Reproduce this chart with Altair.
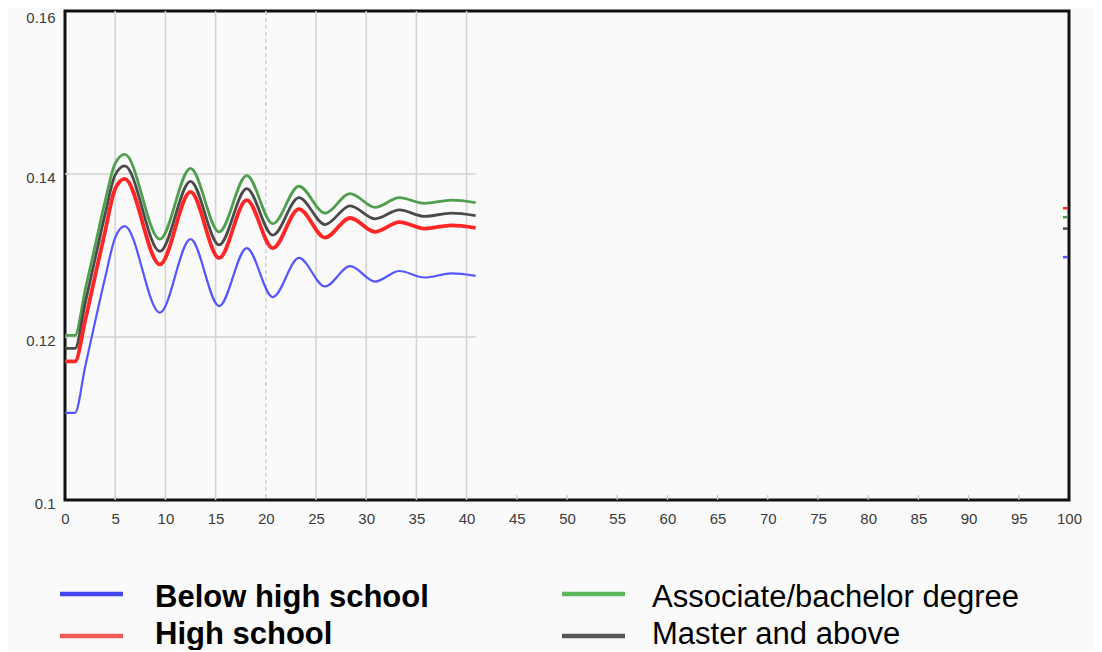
import altair as alt
import pandas as pd

series = ["Below high school", "High school", "Associate/bachelor degree", "Master and above"]
line_colors = ["#5656ff", "#ff2626", "#4f9f4f", "#4a4a4a"]
legend_colors = ["#4646f5", "#f25a5a", "#5cb85c", "#565656"]
line_widths = [2.2, 3.8, 2.8, 2.8]
draw_order = [2, 3, 1, 0]

time = [0, 1, 2, 3, 4, 5, 5.95, 9.45, 12.5, 15.35, 18.1, 20.7, 23.3, 25.9, 28.4, 30.9, 33.3, 35.8, 38.5, 40.9]
below = [0.1107, 0.1107, 0.1163, 0.1219, 0.1273, 0.1322, 0.1336, 0.1230, 0.1320, 0.1238, 0.1309, 0.1249,
         0.1297, 0.1262, 0.1287, 0.1268, 0.1281, 0.1273, 0.1278, 0.1275]
high = [0.1170, 0.1170, 0.1220, 0.1275, 0.1330, 0.1382, 0.1394, 0.1289, 0.1378, 0.1297, 0.1368, 0.1309,
        0.1357, 0.1322, 0.1346, 0.1329, 0.1341, 0.1333, 0.1337, 0.1334]
assoc = [0.1202, 0.1202, 0.1257, 0.1312, 0.1367, 0.1413, 0.1424, 0.1320, 0.1407, 0.1329, 0.1398, 0.1339,
         0.1385, 0.1352, 0.1376, 0.1359, 0.1371, 0.1364, 0.1368, 0.1365]
master = [0.1186, 0.1186, 0.1241, 0.1296, 0.1351, 0.1399, 0.1410, 0.1305, 0.1391, 0.1313, 0.1382, 0.1325,
          0.1371, 0.1338, 0.1361, 0.1345, 0.1356, 0.1348, 0.1352, 0.1349]
values = [below, high, assoc, master]

final_time = 100
final_values = [0.1298, 0.1358, 0.1347, 0.1333]

x_ticks = list(range(0, 101, 5))
y_ticks = [0.1, 0.12, 0.14, 0.16]

x_scale = alt.Scale(domain=[0, 100], nice=False, zero=False)
y_scale = alt.Scale(domain=[y_ticks[0], y_ticks[-1]], nice=False, zero=False)

last_t = time[-1]
grid_x = [v for v in x_ticks if 0 < v <= last_t]
inner_ticks = [v for v in x_ticks if last_t < v < 100]
grid_y = [v for v in y_ticks[1:-1]]

grid_x_df = pd.DataFrame({"g": grid_x})
grid_y_df = pd.DataFrame({"gy": grid_y, "x0": [0] * len(grid_y), "x1": [last_t] * len(grid_y)})
tick_df = pd.DataFrame({"tk": inner_ticks, "yb": [y_ticks[0]] * len(inner_ticks)})

x_axis = alt.Axis(values=x_ticks, format="d", ticks=False, domain=False, grid=False,
                  labelFlush=False,
                  labelPadding=11, labelFontSize=15, labelColor="#3a3a3a", labelFont="Liberation Sans",
                  title=None)
y_axis = alt.Axis(values=y_ticks, format="~g", ticks=False, domain=False, grid=False,
                  labelFlush=False, labelPadding=10,
                  labelOffset={"condition": {"test": f"datum.value >= {y_ticks[-1]}", "value": 6}, "value": 3},
                  labelFontSize=15, labelColor="#3a3a3a",
                  labelFont="Liberation Sans", title=None)

gx = alt.Chart(grid_x_df).mark_rule(color="#d2d2d2", strokeWidth=1.5).encode(
    x=alt.X("g:Q", scale=x_scale, axis=x_axis),
    strokeDash=alt.condition(alt.datum.g == 20, alt.value([4, 3]), alt.value([1, 0])),
)
gy = alt.Chart(grid_y_df).mark_rule(color="#d2d2d2", strokeWidth=1.5).encode(
    x=alt.X("x0:Q", scale=x_scale, axis=x_axis),
    x2="x1:Q",
    y=alt.Y("gy:Q", scale=y_scale, axis=y_axis),
)
tk = alt.Chart(tick_df).mark_rule(color="#c4c4c4", strokeWidth=1.2, y2Offset=-5).encode(
    x=alt.X("tk:Q", scale=x_scale),
    y=alt.Y("yb:Q", scale=y_scale),
    y2="yb:Q",
)

line_layers = []
for i in draw_order:
    df = pd.DataFrame({"t": time, "v": values[i]})
    line_layers.append(
        alt.Chart(df).mark_line(color=line_colors[i], strokeWidth=line_widths[i],
                                interpolate="monotone").encode(
            x=alt.X("t:Q", scale=x_scale, axis=x_axis),
            y=alt.Y("v:Q", scale=y_scale, axis=y_axis),
        )
    )

final_df = pd.DataFrame({"t": [final_time] * 4, "v": final_values, "s": series})
final_marks = alt.Chart(final_df).mark_rule(strokeWidth=2.5, xOffset=-6, x2Offset=-1).encode(
    x=alt.X("t:Q", scale=x_scale),
    x2="t:Q",
    y=alt.Y("v:Q", scale=y_scale),
    color=alt.Color("s:N", scale=alt.Scale(domain=series, range=line_colors), legend=None),
)

main = alt.layer(gx, gy, tk, *line_layers, final_marks)

leg_df = pd.DataFrame({"label": series,
                       "col": [i // 2 for i in range(len(series))],
                       "row": [i % 2 for i in range(len(series))]})
lx = alt.Scale(domain=[0, 1], range=[-5, 497])
ly_sym = alt.Scale(domain=[0, 1], range=[583, 625])
ly_txt = alt.Scale(domain=[0, 1], range=[587, 624])
leg_sym = alt.Chart(leg_df).mark_rule(strokeWidth=4.5, x2Offset=63).encode(
    x=alt.X("col:Q", scale=lx, axis=None),
    x2="col:Q",
    y=alt.Y("row:Q", scale=ly_sym, axis=None),
    color=alt.Color("label:N", scale=alt.Scale(domain=series, range=legend_colors), legend=None),
)
leg_bold = alt.Chart(leg_df).transform_filter(alt.datum.col == 0).mark_text(
    align="left", baseline="middle", dx=95, fontSize=31, fontWeight="bold",
    font="Liberation Sans", color="#000000").encode(
    x=alt.X("col:Q", scale=lx, axis=None),
    y=alt.Y("row:Q", scale=ly_txt, axis=None),
    text="label:N",
)
leg_norm = alt.Chart(leg_df).transform_filter(alt.datum.col == 1).mark_text(
    align="left", baseline="middle", dx=90, fontSize=31, fontWeight="normal",
    font="Liberation Sans", color="#000000").encode(
    x=alt.X("col:Q", scale=lx, axis=None),
    y=alt.Y("row:Q", scale=ly_txt, axis=None),
    text="label:N",
)
legend = alt.layer(leg_sym, alt.layer(leg_bold, leg_norm)).resolve_scale(
    y="independent", color="independent"
)

chart = alt.layer(main, legend).resolve_scale(
    x="independent", y="independent", color="independent"
).properties(
    width=1004,
    height=489,
    background="#fafafa",
    padding={"left": 57, "top": 3, "right": 25, "bottom": 150},
    autosize=alt.AutoSizeParams(type="none"),
).configure_view(stroke="#111111", strokeWidth=3)

chart.save("out.html", embed_options={"renderer": "svg", "actions": False})
